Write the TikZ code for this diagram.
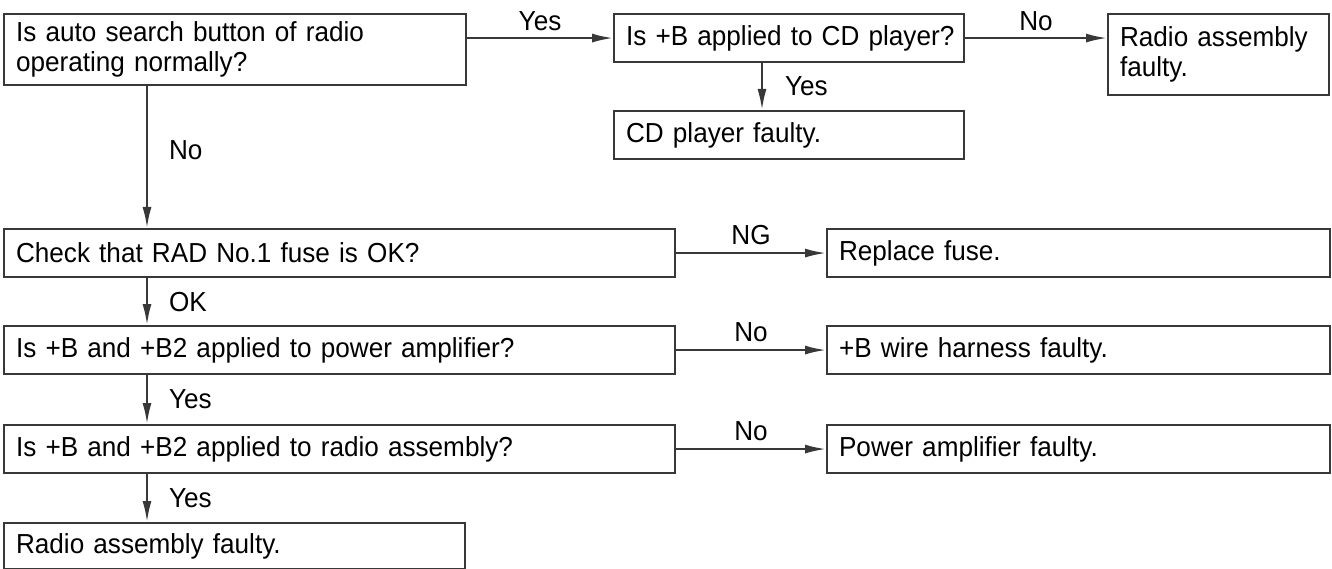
\documentclass[tikz,border=0pt]{standalone}
\usepackage{fontspec}
\setmainfont[FakeStretch=0.95]{Liberation Sans}
\usetikzlibrary{arrows.meta}
\definecolor{linec}{HTML}{383838}
\tikzset{
  box/.style={draw=linec, line width=2.1pt, anchor=north west, align=left,
    inner xsep=12pt, inner ysep=0pt, font=\fontsize{27.5}{30}\selectfont,
    text=black},
  conn/.style={draw=linec, line width=2.1pt, -{Latex[length=21pt,width=9pt]}},
  lab/.style={font=\fontsize{27.5}{30}\selectfont, text=black},
}
\newcommand{\bx}[6]{%
  \node[box, minimum width=#4pt, minimum height=#5pt, text width=#4pt-24pt] (#1) at (#2,#3) {#6};}
\begin{document}
\begin{tikzpicture}[x=1pt,y=-1pt]
\useasboundingbox (0,0) rectangle (1332,569);
\bx{A}{3}{13}{462}{71}{\mbox{Is auto search button of radio}\\\mbox{operating normally?}}
\bx{B}{613}{13}{350}{48}{\mbox{Is +B applied to CD player?}}
\bx{C}{1107}{13}{221}{81}{\mbox{Radio assembly}\\\mbox{faulty.}}
\bx{D}{613}{110}{350}{48}{\mbox{CD player faulty.}}
\bx{E}{3}{228}{671}{48}{\mbox{Check that RAD No.1 fuse is OK?}}
\bx{F}{826}{228}{503}{48}{\mbox{Replace fuse.}}
\bx{G}{3}{325}{671}{48}{\mbox{Is +B and +B2 applied to power amplifier?}}
\bx{H}{826}{325}{503}{48}{\mbox{+B wire harness faulty.}}
\bx{I}{3}{424}{671}{48}{\mbox{Is +B and +B2 applied to radio assembly?}}
\bx{J}{826}{424}{503}{48}{\mbox{Power amplifier faulty.}}
\bx{K}{3}{522}{461}{46}{\mbox{Radio assembly faulty.}}
% horizontal connectors
\draw[conn] (A.east |- B.west) -- node[lab, midway, above=3pt] {Yes} (B.west);
\draw[conn] (B.east) -- node[lab, midway, above=3pt] {No} (B.east -| C.west);
\draw[conn] (E.east) -- node[lab, midway, above=4pt] {NG} (F.west);
\draw[conn] (G.east) -- node[lab, midway, above=4pt] {No} (H.west);
\draw[conn] (I.east) -- node[lab, midway, above=4pt] {No} (J.west);
% vertical connectors
\draw[conn] ([xshift=149pt]B.south west) -- node[lab, midway, right=22pt, inner sep=0pt] {Yes} ([xshift=149pt]D.north west);
\draw[conn] ([xshift=144pt]A.south west) -- node[lab, pos=0.45, right=21pt, inner sep=0pt] {No} ([xshift=144pt]E.north west);
\draw[conn] ([xshift=144pt]E.south west) -- node[lab, midway, right=21pt, inner sep=0pt] {OK} ([xshift=144pt]G.north west);
\draw[conn] ([xshift=144pt]G.south west) -- node[lab, midway, right=21pt, inner sep=0pt] {Yes} ([xshift=144pt]I.north west);
\draw[conn] ([xshift=144pt]I.south west) -- node[lab, midway, right=21pt, inner sep=0pt] {Yes} ([xshift=144pt]K.north west);
\end{tikzpicture}
\end{document}
